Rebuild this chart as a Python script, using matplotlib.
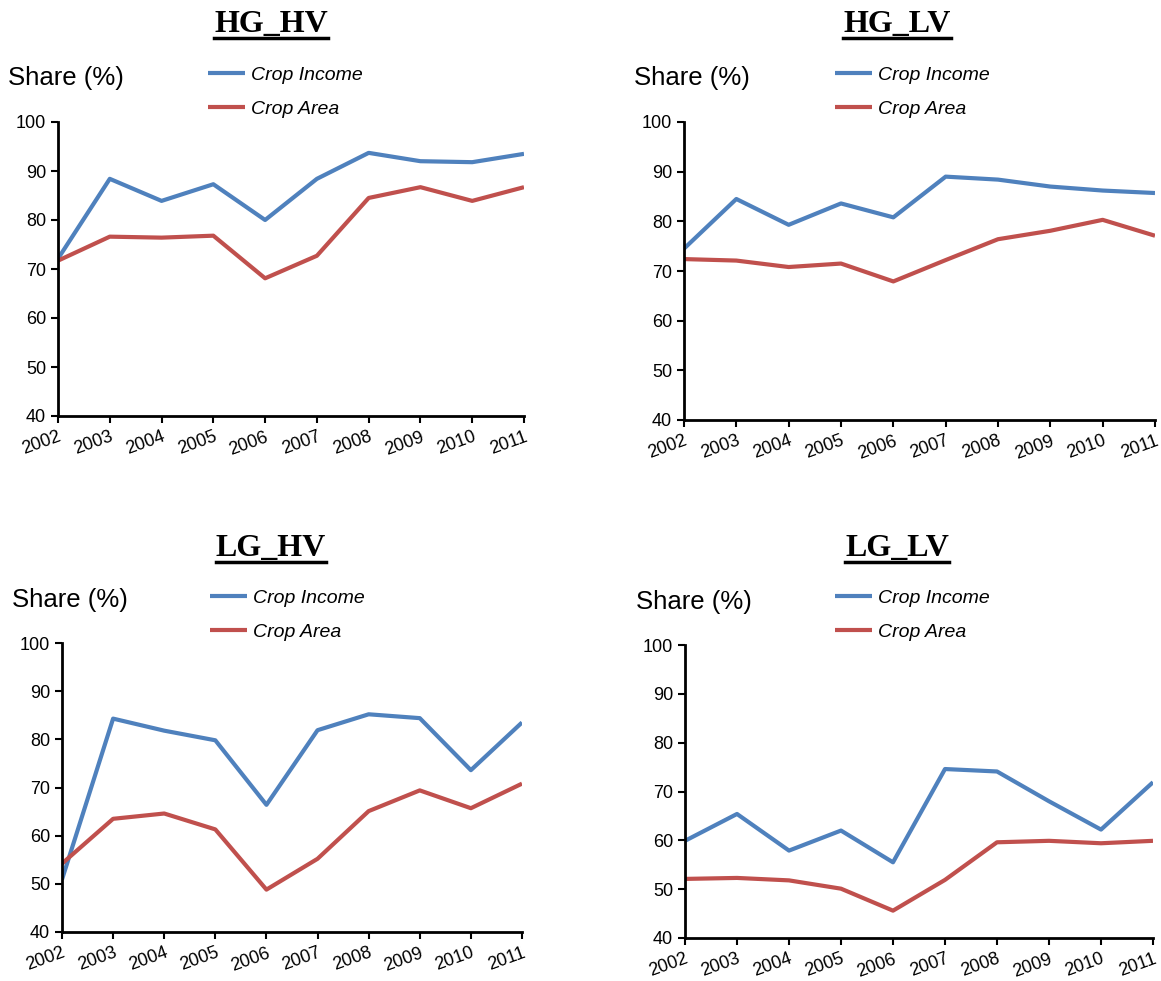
import numpy as np
import matplotlib
matplotlib.use('Agg')
import matplotlib.pyplot as plt
from matplotlib.lines import Line2D

plt.rcParams['font.family'] = ['Liberation Sans', 'DejaVu Sans']

years = [2002, 2003, 2004, 2005, 2006, 2007, 2008, 2009, 2010, 2011]
titles = ['HG_HV', 'HG_LV', 'LG_HV', 'LG_LV']

hg_hv_income = [72.1, 88.4, 83.9, 87.3, 80.0, 88.4, 93.7, 92.0, 91.8, 93.5]
hg_hv_area = [71.7, 76.6, 76.4, 76.8, 68.1, 72.7, 84.5, 86.7, 83.9, 86.7]
hg_lv_income = [74.5, 84.5, 79.3, 83.6, 80.8, 89.0, 88.4, 87.0, 86.2, 85.7]
hg_lv_area = [72.4, 72.1, 70.8, 71.5, 67.9, 72.2, 76.4, 78.1, 80.3, 77.1]
lg_hv_income = [50.9, 84.3, 81.8, 79.8, 66.4, 81.9, 85.2, 84.4, 73.6, 83.5]
lg_hv_area = [54.2, 63.5, 64.6, 61.3, 48.8, 55.2, 65.1, 69.4, 65.7, 70.8]
lg_lv_income = [59.9, 65.4, 57.9, 62.0, 55.5, 74.6, 74.1, 68.0, 62.2, 71.9]
lg_lv_area = [52.1, 52.3, 51.8, 50.1, 45.6, 51.9, 59.6, 59.9, 59.4, 59.9]

incomes = [hg_hv_income, hg_lv_income, lg_hv_income, lg_lv_income]
areas = [hg_hv_area, hg_lv_area, lg_hv_area, lg_lv_area]

W, H = 1161, 981
fig = plt.figure(figsize=(W / 100, H / 100), dpi=100)

# axes boxes in pixels: left, right, top, bottom
boxes = [(58, 524, 122, 416), (684, 1155, 122, 420),
         (62, 522, 643, 932), (685, 1153, 645, 938)]
title_pos = [(271, 25), (897, 25), (271, 549), (897, 549)]
share_pos = [(8, 78), (634, 78), (12, 600), (636, 602)]
legend_pos = [(208, 66), (835, 66), (210, 589), (835, 589)]

blue = '#4F81BD'
red = '#C0504D'

title_texts = []
for i in range(4):
    l, r, t, b = boxes[i]
    ax = fig.add_axes([l / W, 1 - b / H, (r - l) / W, (b - t) / H])
    ax.plot(years, incomes[i], color=blue, lw=3, label='Crop Income', solid_capstyle='butt')
    ax.plot(years, areas[i], color=red, lw=3, label='Crop Area', solid_capstyle='butt')
    ax.set_xlim(2002, 2011)
    ax.set_ylim(40, 100)
    ax.set_xticks(years)
    ax.set_xticklabels([str(y) for y in years], rotation=20, ha='right',
                       rotation_mode='anchor', fontsize=13)
    ax.set_yticks(range(40, 101, 10))
    ax.tick_params(axis='y', labelsize=13, length=5, width=1.5, direction='out')
    ax.tick_params(axis='x', length=5, width=1.5, direction='out', pad=4)
    for s in ['top', 'right']:
        ax.spines[s].set_visible(False)
    for s in ['left', 'bottom']:
        ax.spines[s].set_linewidth(2)

    lx, ly = legend_pos[i]
    ax.legend(loc='upper left', bbox_to_anchor=(lx / W, 1 - ly / H),
              bbox_transform=fig.transFigure, frameon=False,
              prop={'style': 'italic', 'size': 14}, handlelength=1.9,
              handletextpad=0.3, labelspacing=0.85, borderaxespad=0, borderpad=0)

    sx, sy = share_pos[i]
    fig.text(sx / W, 1 - sy / H, 'Share (%)', fontsize=18.5, ha='left', va='center')

    tx, ty = title_pos[i]
    tt = fig.text(tx / W, 1 - ty / H, titles[i], fontsize=23, fontweight='bold',
                  family='Liberation Serif', ha='center', va='center')
    title_texts.append(tt)

# underline the titles
fig.canvas.draw()
renderer = fig.canvas.get_renderer()
for tt in title_texts:
    bb = tt.get_window_extent(renderer).transformed(fig.transFigure.inverted())
    yline = bb.y0 + 2 / H
    fig.add_artist(Line2D([bb.x0, bb.x1], [yline, yline], transform=fig.transFigure,
                          color='black', lw=2.5))

fig.savefig('out.png', dpi=100)
